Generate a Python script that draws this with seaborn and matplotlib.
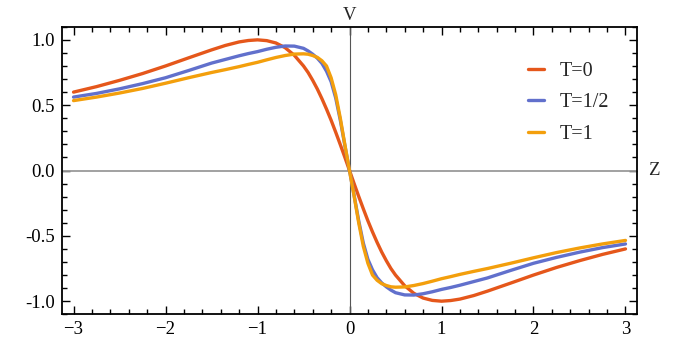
import numpy as np
import pandas as pd
import matplotlib
matplotlib.use("Agg")
import matplotlib.pyplot as plt
import seaborn as sns
from matplotlib.ticker import MultipleLocator, FormatStrFormatter

# values
z = [-3.0, -2.75, -2.5, -2.25, -2.0, -1.75, -1.5, -1.35, -1.2, -1.1, -1.0, -0.9, -0.8,
     -0.7, -0.6, -0.5, -0.45, -0.4, -0.35, -0.3, -0.25, -0.2, -0.15, -0.1, -0.05, 0.0,
     0.05, 0.1, 0.15, 0.2, 0.25, 0.3, 0.35, 0.4, 0.45, 0.5, 0.6, 0.7, 0.8, 0.9,
     1.0, 1.1, 1.2, 1.35, 1.5, 1.75, 2.0, 2.25, 2.5, 2.75, 3.0]

v_t0 = [0.60, 0.642, 0.69, 0.742, 0.80, 0.862, 0.923, 0.957, 0.984, 0.995, 1.0, 0.994, 0.976,
        0.94, 0.882, 0.80, 0.75, 0.69, 0.624, 0.55, 0.47, 0.385, 0.293, 0.198, 0.10, 0.0,
        -0.10, -0.198, -0.293, -0.385, -0.47, -0.55, -0.624, -0.69, -0.75, -0.80, -0.882, -0.94, -0.976, -0.994,
        -1.0, -0.995, -0.984, -0.957, -0.923, -0.862, -0.80, -0.742, -0.69, -0.642, -0.60]

v_t05 = [0.562, 0.59, 0.625, 0.665, 0.71, 0.765, 0.822, 0.85, 0.878, 0.895, 0.91, 0.928, 0.943,
         0.953, 0.952, 0.935, 0.915, 0.89, 0.86, 0.82, 0.76, 0.68, 0.555, 0.385, 0.19, 0.0,
         -0.19, -0.385, -0.555, -0.68, -0.76, -0.82, -0.86, -0.89, -0.915, -0.935, -0.952, -0.953, -0.943, -0.928,
         -0.91, -0.895, -0.878, -0.85, -0.822, -0.765, -0.71, -0.665, -0.625, -0.59, -0.562]

v_t1 = [0.535, 0.562, 0.593, 0.628, 0.668, 0.71, 0.75, 0.772, 0.795, 0.812, 0.828, 0.847, 0.865,
        0.88, 0.891, 0.893, 0.89, 0.88, 0.866, 0.84, 0.80, 0.71, 0.58, 0.40, 0.195, 0.0,
        -0.195, -0.40, -0.58, -0.71, -0.80, -0.84, -0.866, -0.88, -0.89, -0.893, -0.891, -0.88, -0.865, -0.847,
        -0.828, -0.812, -0.795, -0.772, -0.75, -0.71, -0.668, -0.628, -0.593, -0.562, -0.535]

labels = ["T=0", "T=1/2", "T=1"]
colors = ["#E5571B", "#6170CC", "#F39F0C"]

df = pd.DataFrame({
    "Z": z * 3,
    "V": v_t0 + v_t05 + v_t1,
    "T": [labels[0]] * len(z) + [labels[1]] * len(z) + [labels[2]] * len(z),
})

sns.set_style("ticks")
plt.rcParams["font.family"] = ["Liberation Serif", "DejaVu Serif"]

fig = plt.figure(figsize=(6.78, 3.39), dpi=100)
ax = fig.add_axes([0.0915, 0.073, 0.848, 0.848])

# axes through the origin
ax.axhline(0, color="#9a9a9a", lw=1.3, zorder=1)
ax.axvline(0, color="#555555", lw=0.8, zorder=1)

sns.lineplot(data=df, x="Z", y="V", hue="T", palette=colors, sort=False,
             linewidth=2.4, ax=ax, zorder=3)

ax.set_xlim(-3.125, 3.125)
ax.set_ylim(-1.1, 1.1)
ax.xaxis.set_major_locator(MultipleLocator(1))
ax.xaxis.set_minor_locator(MultipleLocator(0.2))
ax.yaxis.set_major_locator(MultipleLocator(0.5))
ax.yaxis.set_minor_locator(MultipleLocator(0.1))
ax.yaxis.set_major_formatter(FormatStrFormatter("%.1f"))
ax.tick_params(which="both", direction="in", top=True, right=True, width=1.0, colors="black")
ax.tick_params(which="major", length=6, labelsize=13.5, pad=5)
ax.tick_params(which="minor", length=3.5)
for s in ax.spines.values():
    s.set_linewidth(1.3)
    s.set_color("black")
ax.set_xlabel("")
ax.set_ylabel("")

ax.text(0, 1.125, "V", ha="center", va="bottom", fontsize=13.5)
ax.text(3.25, 0, "Z", ha="left", va="center", fontsize=13.5, clip_on=False)

ax.legend(loc="upper left", bbox_to_anchor=(0.793, 0.912), frameon=False, fontsize=14.5,
          handlelength=0.8, handletextpad=0.75, labelspacing=0.6, borderpad=0)

fig.savefig("out.png", dpi=100)
